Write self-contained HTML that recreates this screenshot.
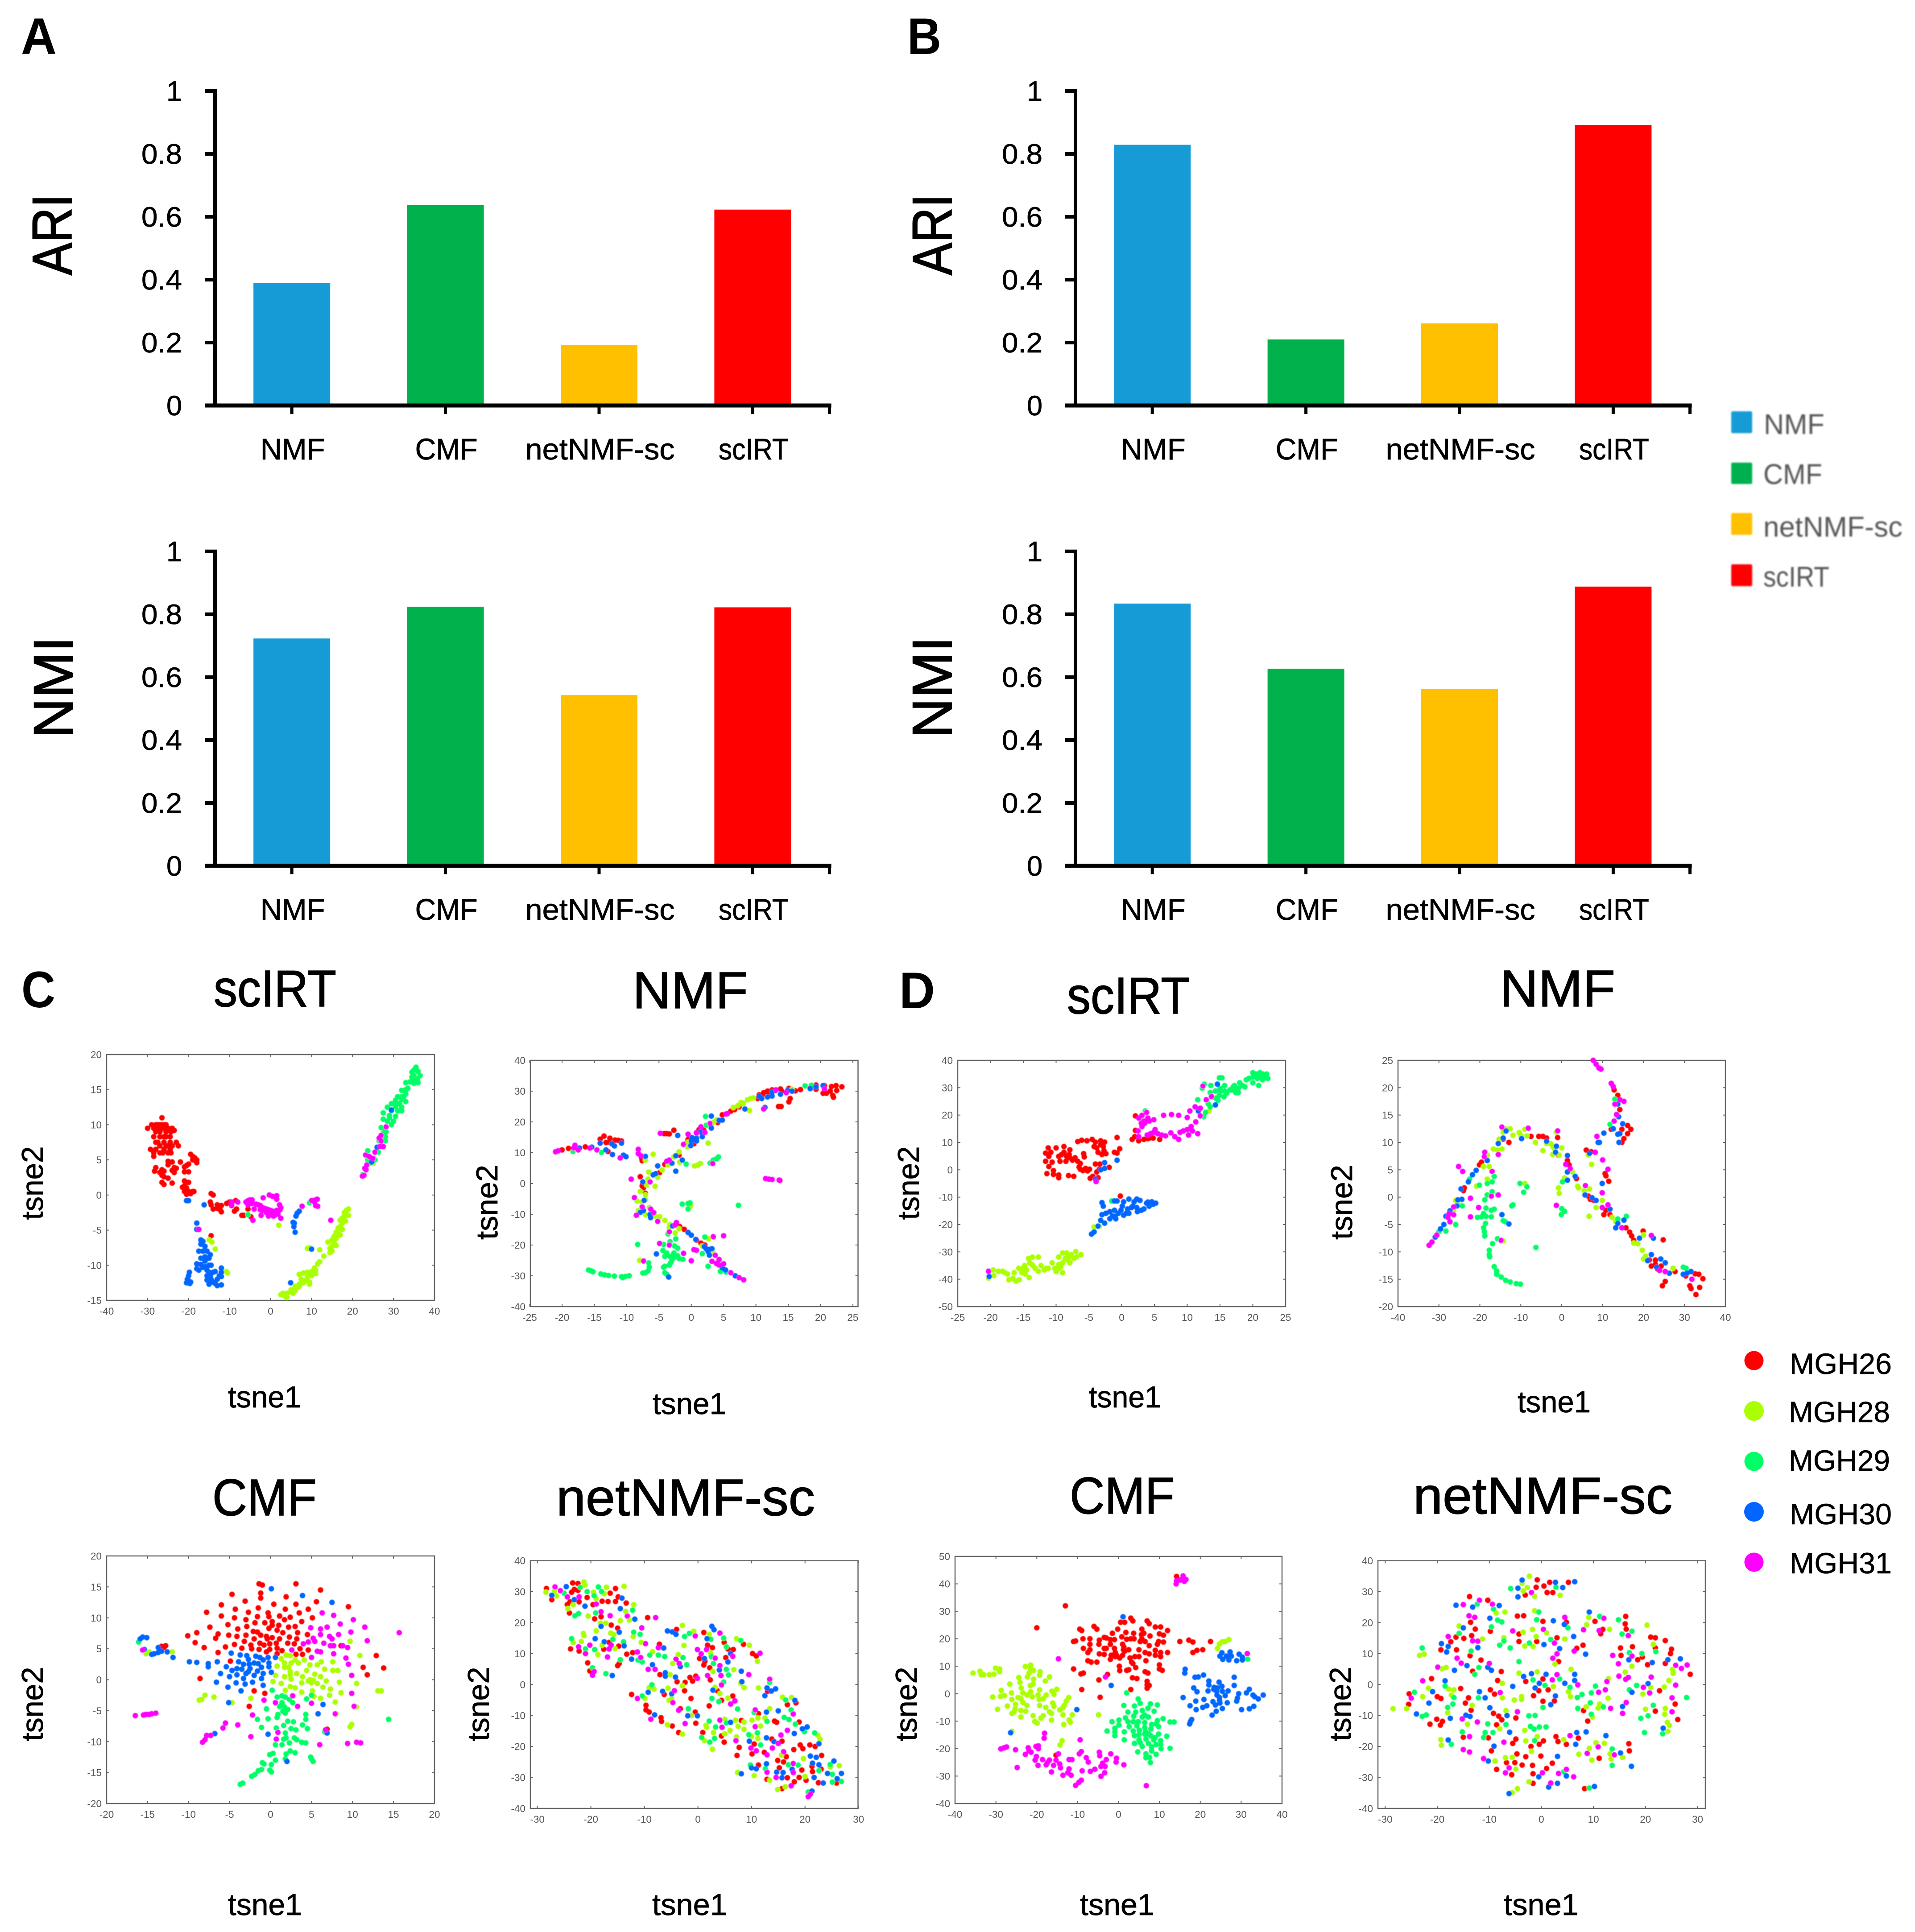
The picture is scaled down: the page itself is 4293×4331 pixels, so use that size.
<!DOCTYPE html>
<html lang="en">
<head>
<meta charset="utf-8">
<title>Clustering comparison figure</title>
<style>
html,body{margin:0;padding:0;background:#fff}
svg{display:block}
text{font-family:"Liberation Sans",sans-serif}
.tick{font-size:22.5px;fill:#555}
.bartick{font-size:63px;fill:#000;stroke:#000;stroke-width:.8px}
.cat{font-size:67px;fill:#000;stroke:#000;stroke-width:.8px}
.metric{font-size:125px;fill:#000;stroke:#000;stroke-width:2px}
.letter{font-size:115px;font-weight:bold;fill:#000}
.title{font-size:116px;fill:#000;stroke:#000;stroke-width:1.5px}
.axlab{font-size:68px;fill:#000;stroke:#000;stroke-width:.8px}
.leg1{font-size:64px;fill:#555}
.leg2{font-size:66px;fill:#000;stroke:#000;stroke-width:.6px}
</style>
</head>
<body>
<svg id="figure" xmlns="http://www.w3.org/2000/svg" width="4293" height="4331" viewBox="0 0 4293 4331">
<defs>
<filter id="soft" x="-5%" y="-5%" width="110%" height="110%"><feGaussianBlur stdDeviation="0.9"/></filter>
<filter id="softer" x="-5%" y="-5%" width="110%" height="110%"><feGaussianBlur stdDeviation="1.6"/></filter>
</defs>
<rect x="0" y="0" width="4293" height="4331" fill="#fff"/>

<text class="letter" x="47" y="121" textLength="80" lengthAdjust="spacingAndGlyphs">A</text>
<text class="letter" x="2034" y="121" textLength="76" lengthAdjust="spacingAndGlyphs">B</text>
<text class="letter" x="48" y="2258" textLength="76" lengthAdjust="spacingAndGlyphs">C</text>
<text class="letter" x="2016" y="2260" textLength="80" lengthAdjust="spacingAndGlyphs">D</text>

<text class="metric" transform="translate(160,526) rotate(-90)" text-anchor="middle" textLength="182" lengthAdjust="spacingAndGlyphs">ARI</text>
<text class="metric" transform="translate(163,1541) rotate(-90)" text-anchor="middle" textLength="228" lengthAdjust="spacingAndGlyphs">NMI</text>
<text class="metric" transform="translate(2133,526) rotate(-90)" text-anchor="middle" textLength="182" lengthAdjust="spacingAndGlyphs">ARI</text>
<text class="metric" transform="translate(2133,1541) rotate(-90)" text-anchor="middle" textLength="228" lengthAdjust="spacingAndGlyphs">NMI</text>

<g filter="url(#softer)">
<rect x="3881" y="922" width="47" height="49" rx="3" fill="#179bd7"/>
<text class="leg1" x="3954" y="973" textLength="136" lengthAdjust="spacingAndGlyphs">NMF</text>
<rect x="3881" y="1037" width="47" height="48" rx="3" fill="#00b050"/>
<text class="leg1" x="3953" y="1085" textLength="132" lengthAdjust="spacingAndGlyphs">CMF</text>
<rect x="3881" y="1150" width="47" height="49" rx="3" fill="#ffc000"/>
<text class="leg1" x="3953" y="1203" textLength="312" lengthAdjust="spacingAndGlyphs">netNMF-sc</text>
<rect x="3881" y="1265" width="47" height="49" rx="3" fill="#ff0000"/>
<text class="leg1" x="3953" y="1315" textLength="148" lengthAdjust="spacingAndGlyphs">scIRT</text>
</g>

<g>
<circle cx="3932" cy="3050" r="21.5" fill="#ff0000"/>
<text class="leg2" x="4012" y="3080" textLength="229" lengthAdjust="spacingAndGlyphs">MGH26</text>
<circle cx="3932" cy="3163" r="22" fill="#aaff00"/>
<text class="leg2" x="4010" y="3188" textLength="227" lengthAdjust="spacingAndGlyphs">MGH28</text>
<circle cx="3932" cy="3276" r="21.5" fill="#00ff66"/>
<text class="leg2" x="4010" y="3297" textLength="227" lengthAdjust="spacingAndGlyphs">MGH29</text>
<circle cx="3932" cy="3389" r="22" fill="#0066ff"/>
<text class="leg2" x="4012" y="3417" textLength="229" lengthAdjust="spacingAndGlyphs">MGH30</text>
<circle cx="3932" cy="3502" r="21.5" fill="#ff00ff"/>
<text class="leg2" x="4012" y="3527" textLength="229" lengthAdjust="spacingAndGlyphs">MGH31</text>
</g>

<g>
<text class="title" x="479" y="2256" textLength="275" lengthAdjust="spacingAndGlyphs">scIRT</text>
<text class="title" x="1418" y="2260" textLength="259" lengthAdjust="spacingAndGlyphs">NMF</text>
<text class="title" x="2392" y="2272" textLength="275" lengthAdjust="spacingAndGlyphs">scIRT</text>
<text class="title" x="3362" y="2256" textLength="259" lengthAdjust="spacingAndGlyphs">NMF</text>
<text class="title" x="476" y="3397" textLength="234" lengthAdjust="spacingAndGlyphs">CMF</text>
<text class="title" x="1247" y="3397" textLength="580" lengthAdjust="spacingAndGlyphs">netNMF-sc</text>
<text class="title" x="2398" y="3393" textLength="235" lengthAdjust="spacingAndGlyphs">CMF</text>
<text class="title" x="3168" y="3393" textLength="581" lengthAdjust="spacingAndGlyphs">netNMF-sc</text>
</g>

<g>
<text class="axlab" x="511" y="3155" textLength="164" lengthAdjust="spacingAndGlyphs">tsne1</text>
<text class="axlab" x="1463" y="3170" textLength="165" lengthAdjust="spacingAndGlyphs">tsne1</text>
<text class="axlab" x="2441" y="3155" textLength="162" lengthAdjust="spacingAndGlyphs">tsne1</text>
<text class="axlab" x="3402" y="3166" textLength="164" lengthAdjust="spacingAndGlyphs">tsne1</text>
<text class="axlab" x="511" y="4293" textLength="166" lengthAdjust="spacingAndGlyphs">tsne1</text>
<text class="axlab" x="1462" y="4293" textLength="168" lengthAdjust="spacingAndGlyphs">tsne1</text>
<text class="axlab" x="2421" y="4293" textLength="167" lengthAdjust="spacingAndGlyphs">tsne1</text>
<text class="axlab" x="3371" y="4293" textLength="168" lengthAdjust="spacingAndGlyphs">tsne1</text>
<text class="axlab" transform="translate(96,2652) rotate(-90)" text-anchor="middle" textLength="165" lengthAdjust="spacingAndGlyphs">tsne2</text>
<text class="axlab" transform="translate(1115,2695) rotate(-90)" text-anchor="middle" textLength="168" lengthAdjust="spacingAndGlyphs">tsne2</text>
<text class="axlab" transform="translate(2060,2652) rotate(-90)" text-anchor="middle" textLength="165" lengthAdjust="spacingAndGlyphs">tsne2</text>
<text class="axlab" transform="translate(3031,2695) rotate(-90)" text-anchor="middle" textLength="168" lengthAdjust="spacingAndGlyphs">tsne2</text>
<text class="axlab" transform="translate(96,3820) rotate(-90)" text-anchor="middle" textLength="167" lengthAdjust="spacingAndGlyphs">tsne2</text>
<text class="axlab" transform="translate(1096,3820) rotate(-90)" text-anchor="middle" textLength="167" lengthAdjust="spacingAndGlyphs">tsne2</text>
<text class="axlab" transform="translate(2055,3820) rotate(-90)" text-anchor="middle" textLength="167" lengthAdjust="spacingAndGlyphs">tsne2</text>
<text class="axlab" transform="translate(3028,3820) rotate(-90)" text-anchor="middle" textLength="167" lengthAdjust="spacingAndGlyphs">tsne2</text>
</g>

<g id="charts"></g>
</svg>

<script>
// ---------- bar chart data ----------
const barCategories = ['NMF','CMF','netNMF-sc','scIRT'];
const barTickValues = [0,0.2,0.4,0.6,0.8,1];
const barTickLabels = ['0','0.2','0.4','0.6','0.8','1'];
const ariPanelA = [0.389,0.637,0.193,0.623];
const nmiPanelA = [0.723,0.824,0.543,0.822];
const ariPanelB = [0.829,0.21,0.261,0.892];
const nmiPanelB = [0.834,0.627,0.563,0.888];

// ---------- scatter ticks ----------
const ticksM40to40 = [-40,-30,-20,-10,0,10,20,30,40];
const ticksM30to30 = [-30,-20,-10,0,10,20,30];
const ticksM25to25 = [-25,-20,-15,-10,-5,0,5,10,15,20,25];
const ticksM20to20by5 = [-20,-15,-10,-5,0,5,10,15,20];
const ticksM15to20 = [-15,-10,-5,0,5,10,15,20];
const ticksM20to25 = [-20,-15,-10,-5,0,5,10,15,20,25];
const ticksM50to40 = [-50,-40,-30,-20,-10,0,10,20,30,40];
const ticksM40to50 = [-40,-30,-20,-10,0,10,20,30,40,50];

// ---------- panel C, scIRT ----------
const cScirtMgh26 = [[-29,10],[-28,10],[-27.5,10],[-27,10],[-26.5,10],[-26,10],[-25.5,10],[-26.5,11],[-30,9.5],[-28.5,9.5],[-27.5,9.5],[-26.5,9.5],[-25.5,9.5],[-25,9.5],[-24,9.5],[-23.5,9.2],[-28,9],[-27,9],[-25.5,9],[-24.3,9],[-28.5,8.3],[-27,8.3],[-26,8.3],[-25.5,8.3],[-24.5,8.3],[-28,7.5],[-27.5,7.5],[-26,7.5],[-24.5,7.5],[-23,7.5],[-27,7],[-25.5,7],[-25,7],[-24,7],[-22.5,7],[-29.3,6.5],[-28,6.5],[-26,6.5],[-24.5,6.5],[-28.5,6],[-27,6],[-26.3,6],[-25,6],[-24.3,6],[-28.5,5.5],[-28,3.9],[-28.3,3.4],[-26.5,3.6],[-26,3.4],[-27,3.2],[-26.5,2.8],[-26,2.6],[-25,2.4],[-26.5,1.8],[-26,1.5],[-24,1.7],[-25,4.8],[-24,4.7],[-23.5,3.9],[-23,3.8],[-24,3.5],[-23.5,3.2],[-25,4.3],[-22,4.7],[-21,4],[-20.5,4.2],[-21,3.3],[-20,3.3],[-20,4.4],[-19.5,5.8],[-19,5.5],[-19,5],[-18.5,5.3],[-18,5],[-18,4.6],[-21,2],[-20,1.8],[-21,1.3],[-21.5,1.1],[-20.5,1],[-21,0.5],[-20,0.5],[-19,0.5],[-19.5,0.2],[-20.5,0.1],[-18.7,0.5],[-14.5,0.2],[-14,0],[-14.7,-1],[-14.5,-1.4],[-13,-1.4],[-12,-1.5],[-14,-2],[-13,-1.9],[-12.3,-2.1],[-12,-2.4],[-10.7,-1.2],[-10,-1],[-9.5,-1.5],[-8.5,-0.8],[-8.3,-2],[-8.8,-2.3],[-7,-2.9],[-6.5,-2.9],[-5.5,-2],[-4.8,-3.1],[-14.5,-5.8]];
const cScirtMgh28 = [[2,-4.3],[19,-2],[18.5,-2.2],[18,-2.5],[19,-2.9],[18,-3],[17.5,-3.3],[17,-3.6],[18.3,-3.7],[17.5,-4],[17,-4.5],[16.5,-4.7],[17.5,-4.9],[16,-5.3],[16.5,-5.5],[17,-5.7],[15.5,-5.9],[16,-6.2],[15,-6.4],[15.5,-6.8],[14,-6.7],[16,-7.2],[15,-7.3],[14.5,-7.6],[15,-8],[12,-7.8],[14.5,-8.2],[13,-8.7],[12,-9.5],[11.5,-9.8],[10.7,-10.4],[11,-10.7],[10,-10.9],[11,-11.2],[9,-11],[8,-11.1],[7,-11.3],[9,-11.7],[10,-11.5],[7.5,-12],[8.5,-12.2],[9.5,-12.4],[8,-12.5],[7,-12.7],[6,-13],[9.5,-12.7],[7,-13],[6.5,-13.2],[5,-13.5],[6,-13.6],[5,-13.8],[4,-14],[3,-14],[3.5,-14.4],[4,-14.6],[5.5,-14],[2.5,-14.2],[9,-7.6],[9.5,-7.5],[-15,-6.4],[-14.3,-6.7],[-13.5,-7.7],[-10.8,-10.9],[-10.5,-11.1],[25,4.5]];
const cScirtMgh29 = [[35.5,18.2],[35,17.8],[34.5,17.5],[36,17.6],[35,17],[36.5,17],[34.5,16.8],[35.8,16.5],[35,16.2],[36,16],[35,15.9],[34,16.1],[33,16],[33.5,15.2],[33,15],[32,14.9],[33,14.4],[32,14],[32.5,14],[31,14],[32,13.6],[30.5,13.5],[31.5,13],[33,13.3],[32,12.5],[30.5,12.6],[29.5,13],[30.5,12.9],[28.5,12.5],[32,12],[31,12],[29.5,12],[27.5,11.7],[29,11.3],[30.5,11.2],[29,11],[30,10.5],[27.5,10.8],[28.5,10.5],[29.5,10],[27,9.6],[28,9.4],[28.2,9],[27.5,8.8],[28,8.3],[27.5,8],[26.5,7.7],[28,7.7],[26.3,6.1],[23.7,6.3],[23.7,5],[24,4.5],[25.5,5],[22.5,2.9],[-5.5,-2.8],[9.5,-1.1]];
const cScirtMgh30 = [[-20.5,-0.8],[-20,-0.8],[-16.2,-1.4],[-18,-4],[-18,-4.9],[5.5,-3.9],[5.8,-4],[6.2,-3],[6.5,-2.6],[7,-2.3],[5.7,-4.5],[6,-5.3],[-17,-6.4],[-16.5,-6.6],[-17,-7],[-16,-7.3],[-16.5,-8],[-17.5,-8],[-15.5,-8],[-16,-8.8],[-17,-9],[-15.5,-9],[-14.7,-8.5],[-17,-9.9],[-16,-9.4],[-15,-9],[-18,-9.8],[-16,-10.2],[-15,-10],[-14.5,-10],[-18,-10.5],[-17.5,-10.7],[-16.5,-10.3],[-15.5,-10.7],[-15,-11],[-14,-11],[-13.5,-10.9],[-12,-10.4],[-12,-11],[-15.5,-11.5],[-14.7,-11.5],[-12.5,-11.5],[-12,-11.6],[-15.5,-12.1],[-14.5,-12],[-13,-12],[-14,-12.4],[-15,-12.7],[-13.5,-12.6],[-13,-12.9],[-12,-12.8],[-19.8,-11],[-20,-11.5],[-20.3,-12],[-20,-12.2],[-19.5,-12.4],[-20.5,-12.5],[-19.7,-12.6],[10,-7.7],[4.9,-12.5],[29.5,12.1],[26,6.8],[24.7,4.7]];
const cScirtMgh31 = [[-9.5,-1],[-9.5,-1.4],[-8,-1],[-6,-1],[-5.5,-0.8],[-5.3,-1.3],[-5,-0.7],[-4.8,-1],[-4.5,-1.2],[-5.5,-1.4],[-4.5,-0.7],[-3.5,-1.3],[-3,-1.4],[-2.5,-1.5],[-2,-1.8],[-2.5,-2.1],[-1.8,-0.4],[-0.3,0],[0.5,-0.2],[1.5,-0.1],[1.5,-0.6],[2.2,-1.4],[2.5,-1.8],[2.3,-2.1],[-4,-2],[-2,-2.2],[-1.5,-1.9],[-1,-2],[-0.5,-2.1],[0,-2.2],[-2.3,-2.9],[-1,-2.5],[-0.5,-2.7],[0,-2.6],[0.5,-2.3],[1,-2.9],[1.5,-2.2],[1.8,-2.7],[-0.5,-3],[0.7,-3],[2.5,-3.3],[-4.3,-3.6],[-17.5,-4.9],[7.7,-1.6],[10.3,-0.8],[11,-0.7],[10.7,-1],[11.4,-0.6],[10,-0.8],[11,-1.5],[11.5,-1.6],[14.7,-3.6],[28.2,9.7],[26.5,8.1],[27,8.5],[27,7.7],[26.7,6.9],[27.5,6.9],[25.5,6.1],[23.2,5.7],[24,5.5],[25,5.2],[24.2,5.4],[23.5,4.3],[23,3.8],[23.3,3.6],[22.4,2.7],[22.8,2.8]];

// ---------- panel C, NMF ----------
const cNmfMgh26 = [[23.3,31.4],[22.4,31.8],[21.7,31.5],[20.6,31.8],[19.3,32],[18.4,31],[22.5,30.2],[21.5,30],[20.4,29.3],[20.9,29.3],[21.9,28.6],[22,28],[19.3,30.6],[16.9,30.5],[16.1,30.1],[15.1,30.9],[13.8,30.7],[12.5,30.4],[11.8,30],[11.2,29.5],[10.5,28.8],[10.3,27.6],[15.3,27.6],[15.1,26.5],[13.5,25],[13.9,25],[14,30],[13,30.2],[11,28.8],[12,29.4],[8,26],[7.4,24.9],[6.7,24],[6.1,23.5],[4.8,22.3],[4.1,19.8],[3,19],[1.9,17.5],[1.2,17.5],[0.8,16.5],[0.1,13.8],[-0.5,14.3],[0.4,12.9],[-0.6,13.5],[-2.7,17.3],[-3.8,16.2],[-4.2,16.2],[-3.4,16.1],[-13.5,15.4],[-14.1,14.4],[-12.6,14.7],[-13.2,13.3],[-12.7,13.4],[-11.8,14.1],[-11.3,14],[-10.8,13.8],[-16.4,11.9],[-19,11.4],[-20,10.9],[-12.9,10.4],[-7.7,8.3],[-7.6,7.4],[-1.9,9.2],[-4.1,6.2],[-4.9,3.5],[-7.9,2.2],[-7.5,0],[-7.4,-1.4],[-7.1,-3.2],[-7.6,-0.8],[-1.8,-14],[-1.1,-14.9],[1.5,-19.4],[2.1,-20],[0.8,-18.4],[13.7,1]];
const cNmfMgh28 = [[9.2,27.6],[9.6,27.8],[8.7,27.2],[7.2,25.3],[6.5,24.7],[9,23.7],[3.4,19.8],[3.9,20.7],[2.6,13.1],[-0.5,13.4],[-0.6,12],[-1.9,10.3],[-2.7,8.6],[-1.8,6.9],[1,6],[0.5,5.7],[1.4,6.5],[-5.9,9.5],[-7.1,7.6],[-3.6,6],[-4.5,4.4],[-6.6,3.7],[-5.2,2],[-6.7,1.4],[-6.9,-0.5],[-5.6,-0.9],[-7.9,-2.6],[-7.1,-3.7],[-8.4,-5.7],[-7.6,-6],[-7.1,-5.3],[-8.2,-8.8],[-7.1,-10.1],[-5.6,-10.6],[-4.9,-10.8],[-4.1,-12],[-3.3,-13.4],[-3.4,-14.3],[-1.9,-14.7],[-2.5,-16.1],[-0.1,-7.4],[2.7,-18],[1.7,-20.3],[3.4,-22.6],[-8,-25],[15.6,30.6],[8,25.9],[7.7,26.3],[-6.5,-7.8]];
const cNmfMgh29 = [[17.6,31.7],[18.6,31.9],[2.2,21.8],[2.3,18.9],[-18.3,10.4],[-13.9,10.1],[4.2,8.6],[3.9,8],[3.4,7.6],[2.9,6.6],[-0.8,6.3],[-1.4,-6.7],[-0.5,-6.5],[-0.2,-6.3],[-0.5,-8.3],[7.3,-7.1],[-3.6,-16.4],[-3.3,-18.9],[-2.4,-18],[2.1,-17.4],[-8.3,-19.8],[-4.3,-19.8],[-2.6,-20.3],[-2.1,-21],[-4.4,-21.8],[-3.8,-22.6],[-4.1,-23.7],[-2.7,-22.6],[-3.3,-23.7],[-2.7,-24],[-2.1,-23.5],[-1.9,-24.4],[-1.3,-24.6],[1.7,-22.8],[-3,-24.9],[-3.2,-25.8],[-3.4,-26.5],[-4.1,-26.9],[-4.3,-27.2],[-6.6,-25.8],[-6.5,-27.2],[-6.7,-28.4],[-7.1,-29],[-7.5,-29.1],[-4.1,-29],[-3.8,-29.5],[2.6,-26.9],[4.5,-28.6],[5.4,-28.8],[-15.9,-28.1],[-15.5,-28.4],[-15.2,-28.7],[-14,-29.4],[-13.4,-29.7],[-12.8,-29.9],[-11.9,-30.1],[-10.8,-30.3],[-10.6,-30.6],[-10.2,-30.2],[-9.6,-30]];
const cNmfMgh30 = [[20.4,31.8],[19.3,31.4],[18.4,30.8],[15.6,30],[14.9,30.2],[13.8,29],[12.5,29.8],[12.5,28.4],[11.8,28.1],[10.5,28.3],[10.9,27.6],[11.4,24.7],[8.3,24.2],[4.8,20.6],[4.3,20.5],[3.1,21.9],[3.1,18],[1.4,16.8],[1.7,15.2],[0.1,14.9],[0.8,14.7],[0,13.8],[0.8,13.8],[-0.1,12.3],[-2.1,15.6],[-14.1,13.1],[-12.3,12.9],[-11.9,12.2],[-10.8,13.1],[-15.4,11.8],[-17.3,11.5],[-13.2,10.9],[-12.2,9.4],[-10.5,9.2],[-10.1,8.7],[-7.1,8.8],[-5.2,5.7],[-1.4,7.6],[-3,6.6],[-2.4,9],[-2.4,4],[-5.5,3.2],[-5.9,2.8],[-7.5,0.5],[-7.3,-5.5],[-7.4,-8.8],[-7.9,-9.4],[-6.4,-10.1],[-6.3,-11.1],[-2.9,-13.8],[-0.5,-15.9],[0,-16.8],[0.7,-18.2],[2,-20.5],[2.3,-21.2],[2.8,-21.4],[3.2,-21.2],[2.6,-22.1],[2.8,-23.3],[-5.4,-22.9],[4.8,-27.4],[5.3,-28.1],[6.8,-30],[-3.5,-30.4]];
const cNmfMgh31 = [[13.1,30.4],[14.7,29.5],[20.6,30.7],[11.2,24.2],[5.4,22.6],[5.6,22.7],[2.9,19.5],[1.5,18.4],[0.8,16.4],[2.1,16.6],[-0.5,16],[-4.8,16.3],[-1.2,12.7],[-21,10.3],[-20.6,10.6],[-18,12.4],[-18.2,11.5],[-17.5,10.9],[-15.7,11.5],[-14.6,10.9],[-11,8.3],[-8.2,11.1],[-8.2,9.7],[-7.8,9],[-3.4,7.6],[-3.8,7.2],[3.3,6.5],[-9.3,1.4],[-6.4,0.5],[-8.8,-4.6],[-7.6,-7.6],[-6.3,-8.3],[-5.8,-9.5],[-8.5,-10.3],[-5.2,-12.3],[-2.3,-12.7],[-2.5,-13.5],[-3.4,-15.7],[3.4,-17.3],[5,-17],[-4.9,-19.5],[-3.4,-20],[-1.2,-22.7],[0.4,-21.5],[0.8,-21.7],[0,-25.1],[-7.4,-25.2],[3.7,-23.3],[4.3,-24.7],[3.2,-25.3],[3.9,-26],[5,-26.1],[4.3,-26.5],[6.1,-29],[7.4,-30.6],[8.1,-31.3],[11.5,1.6],[12,1.4],[12.5,1.3],[13.6,1.1]];

// ---------- panel D, scIRT ----------
const dScirtMgh26 = [[-11.6,6.1],[-11.2,8],[-11.1,4.9],[-11.6,3.1],[-10.8,6.4],[-10,8],[-10.6,2.8],[-11.1,1.2],[-11.4,-1.4],[-10.4,-0.3],[-10.4,-1.7],[-9.6,-1.9],[-9.6,-2.9],[-9.6,4.9],[-9.4,3.1],[-8.8,8.5],[-8.8,6.4],[-8.4,4.9],[-8.5,3.1],[-7.9,7.3],[-7.9,4.4],[-7.1,4.4],[-6.7,3.1],[-8.1,-2.1],[-7.3,-2.4],[-6.3,2.3],[-6.3,0.2],[-5.9,-0.3],[-4.9,0.2],[-5.8,5.9],[-5.7,4.7],[-6.7,10.3],[-6.1,10.8],[-5.3,10.6],[-4.5,11.1],[-4,10.1],[-3.2,10.6],[-2.6,10.1],[-4.2,8.5],[-3.8,8],[-2.8,8.5],[-3.6,6.4],[-3,5.6],[-2.4,5.9],[-4,2.1],[-3.3,2.1],[-3.4,0.2],[-3.8,-0.8],[-4.8,-3.1],[-4.4,-2.4],[-3.6,-2.9],[-1.9,0.9],[-1.1,6.4],[-0.7,6.1],[-0.3,7.7],[-0.7,11.8],[-9.2,5.5],[-8,5.6],[-7.5,3.5],[-6.5,1],[-5.5,0.5],[-5.2,-0.4],[-2.7,7],[-3.2,9.2],[2.1,19.7],[2.1,14.4],[2,12.1],[1.6,11.1],[2.6,10.6],[3.4,11.1],[4.2,11.6],[4.8,11.6],[5.8,11.1],[-0.2,-9.6],[4,11.4]];
const dScirtMgh28 = [[-20.3,-39.6],[-19.5,-38.7],[-19.6,-36.6],[-18.8,-37.1],[-18.2,-37.1],[-17.8,-37.6],[-17.4,-38.1],[-17.2,-40.2],[-16.6,-39.7],[-16.1,-40.7],[-15.6,-40.2],[-16.4,-37.6],[-15.7,-36],[-15.2,-37.6],[-14.8,-35],[-14.2,-32.4],[-13.6,-31.9],[-14.5,-36.6],[-14.7,-38.1],[-14.1,-39.4],[-13.6,-34.8],[-12.7,-31.9],[-12.7,-37.1],[-12.3,-35],[-11.8,-36.6],[-10.6,-34],[-11.2,-36],[-10.2,-36],[-9.6,-31.9],[-9.6,-36],[-9,-37.6],[-9,-34],[-9,-30.4],[-8.4,-30.4],[-8.1,-31.9],[-7.9,-34],[-7.7,-31],[-7,-29.9],[-6.9,-31.9],[-6.2,-31],[-7.3,-32.4],[-9.6,-34.6],[-10,-37.2],[-11.5,-36],[-8.6,-32.4],[-8.2,-33],[-14,-34],[-13.2,-36],[-15,-36],[-9.3,-35.5],[-4.2,-20.9],[-3.4,-20.6],[13.3,21.5]];
const dScirtMgh29 = [[20,35.5],[19.4,33.4],[19,32.9],[20,33.9],[20.5,35],[21.1,35.5],[21.5,35],[22.1,35],[22.3,33.4],[21.5,32.9],[20.7,33.4],[20.9,30.8],[20,31.8],[18.4,30.8],[18,31.8],[17.2,30.8],[16.8,29.2],[17.4,28.2],[16.5,29.2],[15.7,30.8],[15.3,33.6],[14.9,33.6],[15.7,28.8],[15.1,28.8],[14.3,28.8],[13.5,28.2],[14.9,27.2],[14.3,26.2],[15.6,26.7],[14.7,25.4],[13.6,30.8],[12.6,31.3],[12.3,29.8],[11.6,25.6],[13.2,24.1],[13.5,23],[12.8,21],[12.5,19.4],[3.6,21.5],[-1.5,-11.4],[17.8,29.8],[17.8,28.2],[17.4,29.8],[17,30.3],[18.8,30.3],[21,34.2],[21.8,34],[16,28],[15,29.8]];
const dScirtMgh30 = [[-3,-12],[-2.8,-13.3],[-1.1,-11.4],[-0.7,-11.4],[0.3,-11.7],[1.1,-10.7],[1.9,-11.7],[2.3,-10.7],[2.8,-11.2],[4.6,-11.7],[5.2,-12.2],[3.8,-12.2],[4.2,-13.3],[3.4,-14.3],[3,-14.8],[2.4,-15.3],[1.5,-13.8],[0.9,-14.3],[1.1,-15.9],[0.1,-13.3],[-0.1,-14.8],[-0.5,-15.9],[-1.1,-14.8],[-1.8,-15.3],[-2.4,-15.9],[-1.4,-16.9],[-0.9,-17.9],[-1.8,-17.9],[-3,-16.4],[-3.2,-18.5],[-2.6,-19.5],[-3.6,-20.6],[-4.2,-22.7],[-4.6,-23.5],[-2.6,2.6],[-2.6,0.5],[-3.2,0],[-0.7,3.5],[-4,-3.4],[-20.2,-39],[11.7,21.5],[14.3,23.7],[14.6,31.3],[1.7,-13.3],[0.7,-15.9],[2.3,-13.8],[4.8,-12.6],[4,-11.8],[-1,-17],[0.3,-16.6]];
const dScirtMgh31 = [[-20.3,-37.1],[-3.9,-4.3],[2.6,18.9],[3.1,19.9],[3.8,21],[4,18.9],[3.4,17.8],[3.1,15.8],[2.5,14.2],[2.6,12.1],[4.9,18.3],[6.4,19.9],[7.6,20.2],[8.7,19.9],[4.9,13.7],[5.1,14.7],[5.5,13.2],[6.1,12.7],[6.7,12.4],[7.5,13.5],[8.1,12.1],[8.7,11.1],[8.9,13.7],[9.4,14.2],[10,14.7],[10.2,12.7],[10.8,14.2],[11.6,13.2],[10.6,15.8],[11.3,17.5],[10,19.1],[10.4,21.5],[11.2,23],[12,22.5],[12,19.7],[12.4,30.6],[13.7,26.8],[12.9,25.6],[3.9,12.7],[4.4,13.2],[3.5,17],[4.2,17.8],[3,17]];

// ---------- panel D, NMF ----------
const dNmfMgh26 = [[34.5,-14.9],[33.5,-14.1],[32.6,-14],[33.7,-16.5],[32.8,-17.8],[31.3,-16.2],[31.6,-16.7],[30.3,-14.4],[27.7,-13.6],[25.3,-15.4],[24.6,-16.2],[25.3,-13.6],[24.3,-12.6],[22.9,-11.5],[22.9,-12.3],[21.9,-12.6],[23.4,-13.1],[21.4,-11.5],[24.8,-7.8],[19.9,-6.2],[16.6,-6.4],[17.1,-7.1],[17.6,-7.9],[15.7,-5.6],[11.8,-3.2],[10.3,-3.2],[10.8,-2.4],[7.9,-0.6],[7,-0.4],[6.5,0.2],[3.6,3.4],[1.8,5.9],[1.4,6.7],[10.8,3.9],[11.5,2.9],[10.6,4.3],[-0.8,7.7],[-1,10.9],[-4.6,11.1],[-5.6,11.1],[-7.5,11.1],[-3.7,10.8],[-12.9,10],[-14.3,10.6],[-19.6,6.4],[-20.1,5.9],[-23.8,1.7],[-24,1.2],[6,8.6],[7.2,8.3],[12.8,19.6],[13.7,18.6],[14.2,16],[16.1,13.1],[14.7,12.4],[16.9,12.4],[16.1,11.6],[15.2,10.7],[14.7,10],[12.1,12.4]];
const dNmfMgh28 = [[-13.8,12.5],[-12.6,12.5],[-14.3,11.9],[-15.3,10.6],[-11.9,11.3],[-10.4,11.8],[-9,12.4],[-10,11.3],[-8.5,11.2],[-6.4,10],[-4.6,8.5],[-3.7,9.8],[-2.7,9.8],[-2.2,9.3],[-1.7,8.8],[-2.2,7.8],[-1.3,11.9],[0,9],[-0.6,7.7],[-16.7,8.8],[-15.7,8.6],[-14.6,8.8],[-18.2,7.7],[-19.1,5.6],[-17.7,5.6],[-18.2,3.3],[-20.8,2],[-25.9,-0.6],[-25.4,-1.1],[-26.4,-2.4],[-9,2.5],[-0.8,1.7],[-0.6,0.7],[0.7,3.5],[2.6,4.6],[4.1,1.7],[6.5,7.7],[7.3,6],[6.7,-3.5],[6.8,1.5],[5.5,1.2],[9.9,-0.6],[8.4,-1.9],[12.3,-3.7],[13.2,-4.5],[17.6,-8.4],[18.6,-8.5],[19.7,-9.7],[20.5,-10.8],[20,-11.3],[20,-6.9],[27.2,-13],[-14.3,-8],[3.9,2]];
const dNmfMgh29 = [[29.7,-12.8],[30.4,-13],[15.8,-3.5],[13,17.9],[11.8,13.3],[-10.2,2.5],[-8.5,1.9],[-9.3,0.9],[-6.3,-9.2],[-11.9,-1.4],[-12.2,-1.6],[-15.7,0.4],[-17,1],[-18.2,2.5],[-20.1,2.2],[-16.5,3.8],[-18.2,0.4],[-18.8,-0.5],[-18.5,-2],[-16.5,-2.2],[-17.2,-2.4],[-20.6,-3.7],[-19.6,-3.6],[-18.5,-3.5],[-19.1,-3],[-17.2,-3.6],[-14.3,-4.3],[-13.8,-4.5],[-18.6,-4.8],[-19.1,-5.6],[-18.9,-6.3],[-18.8,-7.1],[-16.9,-8.5],[-15.7,-7.6],[-17.7,-9.7],[-17.7,-10.5],[-17.6,-10.9],[-16.5,-12.7],[-15.9,-13.5],[-15.9,-14.1],[-14.8,-14.6],[-13.7,-15.2],[-12.6,-15.5],[-11.1,-15.8],[-10.1,-15.9],[-25.9,-5],[-28.3,-6.2],[-30,-6.3],[-24.3,-1.6],[-22.5,3.3],[0.2,2.8],[0,-2.1],[0.7,-2.6],[-0.1,-3.2],[13.7,-4],[-17,2.8]];
const dNmfMgh30 = [[31.6,-13.6],[30.6,-13.9],[29.7,-14.1],[26.3,-13.9],[25.3,-12],[24.2,-11.3],[21.9,-10.5],[21,-11.6],[23.2,-12.8],[19,-7.5],[22.4,-7.5],[15.2,-4.2],[13.7,-4.8],[13.2,-5.6],[11.8,-2.2],[9.9,2.5],[8.4,-0.6],[7.4,-0.1],[5.7,0.4],[6.8,8],[3.3,3.8],[1.4,3.1],[1.4,4.6],[1.4,7.6],[-1.5,8.2],[-1.3,9.3],[-3.7,10.2],[-9.8,10.7],[-13.6,12.1],[-14.3,10.8],[-15.5,9.8],[-18.2,6.7],[-20.9,4.9],[-21.8,4.1],[-22.8,2.8],[-24.6,1.5],[-25.4,-0.5],[-24.4,-0.4],[-25.6,-1.6],[-27.3,-2.5],[-28.3,-3.5],[-28.8,-5],[-29.6,-5.8],[-30.9,-7.3],[-14.6,-3.2],[-12.9,-4.9],[8.9,10],[9.2,10],[10.3,11.7],[12.6,12.5],[14.9,13.4],[13.7,11.5],[14.2,11.6],[14,10],[13.7,17],[13.9,14.7]];
const dNmfMgh31 = [[7.7,25],[8.4,24.3],[9.1,23.6],[9.6,23.4],[12.1,20.8],[12.6,20.2],[13,17],[15.2,17.5],[14.2,17.8],[13.4,15.1],[12.8,13.9],[-14.6,12.8],[-8.2,12.6],[-1,12.1],[8.6,11.1],[8.2,8.2],[10,6.8],[11.3,5.1],[9.9,0.8],[5.8,2.1],[-1.3,-1.5],[1,6],[2.1,5.2],[11.3,-1.4],[9.9,-1.9],[14.7,-5.6],[21.9,-7],[23.9,-13.4],[25.3,-13.6],[31.8,-15],[-25.2,5.6],[-24.2,4.7],[-18.8,8.2],[-18.9,7.4],[-17,4.7],[-15.5,7.8],[-15.5,0.4],[-22.3,-0.2],[-20.3,-1.9],[-22.3,-3.6],[-14.8,-7.9],[-26.4,-3.2],[-27.5,-3],[-26.4,-1.8],[-27.3,-4.5],[-27.8,-3.7],[-30.5,-6.9],[-31.7,-8.2],[-32.4,-8.8],[-17.2,0.2]];

// ---------- panel C, CMF ----------
const cCmfMgh26 = [[-1.4,15.5],[-1,15.3],[3.1,15.5],[6.1,14.5],[-1.2,14],[-1.2,13.2],[-4.7,13.8],[1.9,13.4],[-3.1,12.7],[0.4,12.2],[3.1,12.2],[5.6,12.6],[-6,12.1],[9.5,11.8],[-4.3,11.4],[-1.5,11.6],[1.8,11.4],[4.6,11.4],[-7.8,10.9],[-2.7,10.9],[-0.3,10.8],[3.5,10.8],[-6,10.3],[-4.4,10],[-1.6,10.2],[-0.2,10.2],[1.1,10.3],[2.4,10.1],[5.1,10],[-3,9.7],[1.7,9.7],[3.8,9.4],[-5.2,8.9],[-1.9,9.2],[-0.7,9.2],[0.2,9.4],[-2.9,8.6],[0.2,8.8],[1,8.8],[2.2,8.5],[3,8.6],[-7.4,8.5],[-4,8.2],[-0.2,8.3],[-2.1,7.8],[-1.6,7.7],[0.8,8],[-9,7.6],[-6.4,7.4],[1.5,7.6],[3.3,7.6],[-5.1,7.2],[-3,7.2],[-1.2,7.2],[4.5,7.3],[-10.1,7.1],[-6.7,6.7],[-4.1,7],[-0.5,7],[0.2,6.8],[2.3,6.9],[-2,6.6],[1.1,6.6],[3.2,6.6],[-3.2,6.2],[-1.3,5.9],[-0.4,6.6],[-9.2,6],[-4.4,5.7],[-2.4,5.6],[-0.1,5.8],[0.7,5.9],[2.1,5.9],[2.9,5.8],[-8.1,5.2],[-5.5,5.3],[-3.5,5.1],[-2.3,5],[-1.4,4.9],[-0.8,5.6],[-0.1,4.9],[0.8,5.1],[1.4,4.7],[3.6,5],[4.6,4.8],[-6.4,4.4],[-0.5,4.5],[0.8,4.2],[3.1,4.1],[3.9,4.1],[-13.3,5.4],[-12.8,5.5],[-13,5.2],[-8.6,0.2],[-4.9,3],[12.9,3.9],[13.8,1.9],[11.3,2],[11.8,0.8],[-2,-1.8],[-0.7,-2.2],[-2.6,-4.3],[6.9,-8],[8.6,5.5]];
const cCmfMgh28 = [[9.7,6.2],[10.9,3.9],[1.9,4],[2.4,3.9],[1.3,3.4],[1.7,2.7],[0.8,2.2],[2.5,2.7],[3,3.2],[4.1,3.2],[3.4,2.7],[4.8,2.4],[5.7,2.4],[6.2,2.9],[7.6,2.9],[6.6,1.7],[7.6,1.5],[8.2,1.5],[4.4,1.5],[2.4,1.3],[3.2,1],[3.9,0.5],[5.4,0.9],[6.1,0.5],[0.6,0.7],[1.7,0.5],[2.5,0.1],[0.3,-0.3],[1.3,-0.6],[3.8,-0.5],[4.6,-0.2],[5,-0.5],[5.7,-0.6],[6.8,-0.2],[8.4,-0.4],[10.5,-0.6],[2.4,-1.1],[3,-1.3],[1.8,-1.7],[3.8,-2],[6.4,-1.2],[7.3,-1.5],[8.6,-2.1],[5.1,-1.8],[5.3,-2.7],[13.1,-1.8],[13.5,-1.8],[7.2,-2.5],[6.1,-3],[7.9,-3.6],[-8.4,-3.2],[-8,-2.5],[-6.9,-2.8],[-4.7,-3.7],[-2.4,-3],[10.5,-4.4],[9.9,-7.2],[9.7,-7.6],[8,-5.5],[-12,4.5],[-14.8,4.5],[-15.2,4.2],[1.7,2],[2.2,2],[2.4,0.8],[4.8,0],[5.2,-0.1],[-8.7,-3.3]];
const cCmfMgh29 = [[0.2,-1.7],[0.8,-2.8],[1.4,-2.6],[1.8,-2.8],[2.3,-3.2],[2.7,-3.7],[4.4,-3.1],[5,-2.5],[1.4,-3.7],[1.1,-4.3],[1.7,-4.4],[2.1,-4.8],[-0.5,-4.7],[0.9,-5.6],[0.8,-6.1],[1.5,-5.1],[1.8,-5.4],[-1.6,-6.4],[-0.3,-6.3],[4.3,-5.6],[4.3,-6.4],[2.1,-6.7],[2.8,-6.8],[1.6,-7.4],[3.9,-7.3],[-1.1,-7.7],[0.7,-7.8],[2.5,-7.9],[3.1,-8.1],[4.5,-7.9],[1.8,-8.6],[2.9,-9.4],[1.6,-9.6],[1.9,-9.4],[3.2,-9.7],[3.8,-10.1],[4.3,-10.2],[2.3,-10.2],[0.6,-10.5],[1.4,-10.5],[2.4,-11.5],[1.9,-12],[3,-11.8],[0.3,-11.9],[-0.1,-12.1],[0.6,-13],[4.9,-12.5],[5,-12.8],[5.2,-13.2],[1.8,-12.8],[-1,-13.4],[-0.8,-13.6],[0.1,-13.7],[-0.1,-14.6],[0.1,-14.9],[-1.1,-14.5],[-1.5,-14.7],[-1.9,-15.3],[-2.3,-15.6],[-3.4,-16.7],[-3.7,-16.9],[14.4,-6.4],[-16.1,6.1],[6.6,-8.4]];
const cCmfMgh30 = [[0.1,14.7],[3.9,13.6],[7.5,12.5],[-4.8,4.3],[-3.7,4],[-2.9,3.9],[-2.7,3.3],[-1.8,3.8],[-1.3,3.6],[-0.9,3.2],[-0.3,3.6],[0.6,3.6],[-3.9,2.9],[-3.3,2.5],[-2.6,2.5],[-2,2.7],[-1.5,2.6],[-0.2,2.7],[-0.2,2.1],[-1.1,2],[-5.4,2.1],[-4.1,1.8],[-4.7,1.5],[-3.5,1.7],[-2.5,1.8],[-2.7,1.3],[-1.6,1.4],[0.1,1.2],[-0.9,1],[-3,1],[-6.1,1],[-4.1,0.8],[-5,0.5],[-2,0.7],[-3.3,0.2],[-1.1,0.2],[-6.6,-0.4],[-4.2,-0.5],[-3.1,-0.7],[-2.2,-0.4],[-0.9,-0.9],[-5.2,-1.2],[-3.6,-1.8],[-9.9,2.9],[-9,2.8],[-7.6,2.6],[-7.6,2.1],[-6.5,2.9],[-11.9,3.6],[-12.6,4.5],[-13.3,4.6],[-13.7,4.4],[-14.2,4.2],[-14.5,4.1],[-13.7,5.2],[-15.4,4.9],[-15.9,6.6],[-15.6,6.9],[-15.1,6.8],[-5.1,-3.7],[6.4,-4],[5.8,-5.5],[6.9,-8.6],[-0.3,-8.8],[-6.8,-8.7],[2,-13.2]];
const cCmfMgh31 = [[-16.5,-5.8],[-15.5,-5.7],[-15.2,-5.6],[-14.8,-5.6],[-14.5,-5.5],[-14,-5.4],[-15.6,4.8],[-5.5,-7],[-5.8,-7.8],[-4,-7.3],[-2.4,-9.2],[-2.2,-5.7],[-0.8,-3.3],[0.6,-3.7],[2.7,-2.6],[3.3,-4.3],[5,-3.8],[-7.8,-9],[-7.3,-9],[-8,-9.7],[-8.3,-10.1],[0.9,-8.5],[0.7,-9.6],[6,-10.5],[6.7,-8.1],[9.4,-10.3],[10.5,-10.1],[11,-10.2],[10.2,-4.3],[7.9,-5.5],[9.9,-2.2],[9.9,0.7],[9.5,2.5],[9.2,3.5],[9.4,5.2],[8.8,5.5],[7.7,5.5],[7.3,5.5],[8.3,7.3],[9.8,7.7],[11.8,6.3],[11.5,8.5],[15.7,7.6],[10.1,9.7],[8.5,9],[7.7,10.4],[6.3,10.8],[6.9,8.5],[6.1,8.2],[6.1,7.3],[4.9,8.4],[5.2,6.7],[7.5,6.6],[7.2,7],[5.4,6.2],[4.6,6.1],[4,5.8],[6.5,5.9],[5.7,4.6],[6.1,4.5],[7.7,4.2],[2.6,4.8],[5,3.6]];

// ---------- panel C, netNMF-sc ----------
const cNetMgh26 = [[-28.3,31],[-27.3,27.4],[-23.4,32.8],[-22.4,32.6],[-23.6,29.8],[-23.1,30.7],[-22.4,30.4],[-23.9,26.7],[-24.4,25.8],[-22.2,26.7],[-20.7,28.1],[-19.6,25.8],[-16.4,29.5],[-15.4,31],[-17.9,26.9],[-16.8,26.8],[-15.4,26.8],[-14.9,28.3],[-13.4,26.3],[-24,23.1],[-19.3,21.2],[-18.1,21.9],[-9.4,21.6],[-16.2,19.2],[-15,18.2],[-4,17.8],[1.1,16.8],[-23.8,11.5],[-22.2,10.8],[-16.6,13.6],[-17.6,11.4],[-14.8,12.4],[-13.3,9.8],[-12.2,10.3],[-7.2,13],[0.3,8.4],[1.1,6.3],[1.3,7.5],[1.8,12.7],[2.7,11.9],[4.9,13.6],[5.6,11.5],[6.6,11.3],[5.2,8.7],[8.5,13],[10.2,10],[10.9,9.2],[2.2,5.4],[-20.6,7],[-20.2,4.4],[-15,6.1],[-14.7,6.8],[-7.1,3.2],[-3.9,0.9],[-2.4,0.7],[-1.5,2.3],[-1,1.1],[-0.4,2.7],[2.3,1.5],[-2.5,-2],[3.6,-2],[6.5,-3.7],[13,-2.2],[-12.4,-3.2],[-6.3,-3.2],[-1.3,-4.5],[4.4,-5.1],[-9.7,-6.7],[-9.7,-8.2],[-9.1,-8.9],[-3.3,-7.8],[-0.5,-8.9],[2.1,-6.9],[16.7,-6.5],[18.3,-5.9],[11.3,-9.4],[-6.9,-10.7],[-6.8,-11.9],[-4.8,-13.4],[-0.4,-12.5],[8.1,-11.6],[14.3,-11.8],[14.7,-12.2],[18.9,-12.1],[-3.6,-15.5],[0.9,-15.5],[4.4,-16.6],[4.9,-18.6],[13.8,-17.6],[15.7,-18.3],[7.7,-20.3],[7.3,-22.9],[10.1,-22.4],[10.5,-19.2],[12.4,-21.9],[14.9,-24.5],[16.5,-23.3],[17.9,-21],[19.1,-19.5],[19.6,-20.7],[20.9,-19.5],[21.9,-20],[23.1,-22.9],[16,-25],[11.3,-26],[15.2,-26.9],[21.3,-26.4],[23,-27.3],[21.4,-28.1],[19.4,-27.6],[18.9,-30],[20.2,-30.9],[12.9,-30.6],[16.7,-30.1],[18,-31.4],[22.5,-31.7],[25.9,-31.8],[15.7,-33.6]];
const cNetMgh28 = [[-28.4,29.8],[-26.8,30.2],[-26.4,28.6],[-21.3,33.1],[-21.1,32.1],[-19.5,29.8],[-17.5,29.3],[-17.1,31.4],[-13.8,31.7],[-19,27.7],[-23.3,25.8],[-24.3,24.5],[-20.5,22.1],[-13.5,23.6],[-12,25.8],[-14.5,20.6],[-12.8,20.8],[-18.2,19.8],[-17.2,19.8],[-21.4,16.5],[-21.3,15.8],[-19,17.3],[-16.3,16.6],[-15.7,16.1],[-23.3,13.6],[-21.8,13.9],[-17.9,12.7],[-15.5,11.6],[-12.1,15.5],[-10.6,13.6],[-8.5,10.6],[-18.7,9.7],[-4.7,6.8],[-3.7,9.7],[-2.9,-0.4],[-2.6,12.6],[-5.2,3.2],[-2.9,19.1],[-0.8,17.2],[2.1,16.2],[2.3,10.3],[2.8,4.2],[3.2,-0.9],[4.1,-2.9],[6.7,4.8],[8,0.4],[7.2,14.8],[9.6,12.7],[11.1,7.5],[8.6,-1],[5.6,-4.4],[11.3,-1.1],[15.8,-4.1],[17.5,-4.2],[13.4,-7.8],[-9.1,-1],[-8.2,-1.5],[-9.9,-4.5],[-5.6,-1.2],[-5.4,-5.1],[-4.9,-4.5],[-5.7,-13],[-2.9,-16],[-1.2,-10],[1.5,-13.2],[1.6,-13.8],[1.2,-18.1],[2.9,-15.5],[2.7,-20.9],[5,-11.2],[5,-15.9],[6,-14.8],[7,-11.5],[7.5,-13.5],[8.6,-14.5],[8.6,-12.1],[7.2,-16.9],[10.1,-11.5],[10,-16.7],[11.2,-10.8],[11.2,-17.4],[11.7,-13.4],[12.5,-10.8],[15.6,-22.8],[19.7,-23.9],[22.4,-16.4],[22.8,-17.6],[7.4,-28.4],[10.5,-29.4],[13.4,-30.9],[14.9,-33.9],[16.3,-33],[20,-29.7],[24.7,-26.6],[26.4,-26.2]];
const cNetMgh29 = [[-22,31.4],[-18.6,31.5],[-25,29.5],[-20.7,30],[-18,30],[-19.4,28.7],[-23,22.2],[-22.3,22.9],[-19.1,23.1],[-12.2,24],[-23.6,14.8],[-15.9,14.6],[-13.9,13.8],[-12,16.9],[-10.8,16.2],[-21,11.5],[-19.3,11.3],[-14.5,8],[-11.2,7.9],[-10.4,7.3],[-19.7,5.4],[-17.2,3.5],[-9,9.5],[-7.4,9.5],[-6.2,9],[-2.8,8.7],[-2.1,6.4],[-2.5,15.5],[-1.6,16.5],[2.4,14.6],[2.5,9],[4.8,15],[5.3,12.2],[8,14.2],[2.9,6.8],[5.3,4.9],[5.7,3.1],[4.8,0.8],[13.4,0.7],[-8.6,-0.1],[-10.4,-3.7],[-1.8,-7.8],[2.6,-4.5],[3.9,-5.5],[7.4,-7.9],[10.5,-9],[17.4,-8.2],[16.4,-5],[16.1,-10.6],[17,-11.3],[18.2,-12.8],[12.9,-11.9],[2.1,-11.8],[5.3,-12.4],[3.3,-13.7],[9.5,-16.2],[11.1,-15.6],[11.7,-19.5],[19.9,-15.2],[21.8,-15.6],[0.7,-17.1],[2.2,-18.6],[3.1,-17.4],[9.8,-26],[12.6,-27.2],[16.9,-25.9],[18.7,-26],[22.6,-27.8],[24.7,-25.8],[25.1,-29],[25.1,-31.5],[26.8,-31.3],[20.6,-34.7]];
const cNetMgh30 = [[-24.6,31.6],[-27.3,28.8],[-23.1,27.4],[-21.1,25.3],[-14.2,27.9],[-14.5,24.5],[-11.8,21.1],[-18.1,18.8],[-14.7,16.9],[-5.7,17.3],[-4.8,17],[-4.1,16.2],[2.6,18.8],[3,17.7],[1.7,14.8],[-19.2,14.8],[-17.5,13.8],[-13.8,12.5],[-6.4,11.8],[-12.4,8.2],[-8.5,6.4],[1.2,8.4],[6.1,10],[5.6,7.3],[4,4.7],[8.1,4.3],[8.2,0.9],[-16,2.9],[-6.1,3.8],[-6.1,2.7],[-4.2,2.4],[-3.3,5.8],[-9.3,-2.5],[-6.6,-2.2],[-4.9,-3],[2.8,-1.8],[6.1,-12.2],[12.5,-3.6],[12.9,-1.1],[13.7,-2.1],[14.5,-1.4],[18.1,-5.1],[-8.1,-9.8],[-1.9,-10.1],[-0.1,-10.1],[12.8,-8.9],[15,-8.5],[19.5,-14.3],[20.4,-13.7],[18,-15.8],[9.6,-18.3],[12.8,-17.2],[14.2,-18.4],[22.6,-19.1],[21,-23.1],[22.1,-23.5],[21.4,-25.4],[22.6,-25.9],[25.4,-24.7],[24.2,-28.7],[26.8,-28.7],[26,-30.4],[23.4,-31.8],[21.7,-30],[15.7,-30.1],[14.7,-28.3],[15.9,-28.4],[17.6,-27.4],[12.8,-25.6],[10,-26.9],[10.9,-27.2],[8.1,-28.8],[21.3,-34.4]];
const cNetMgh31 = [[-26.7,31.5],[-25.7,30.3],[-24.4,28.3],[-22.2,28.3],[-19,26],[-18.1,23.5],[-16.4,22.2],[-13.2,22.1],[-7.9,21.6],[-10.5,18.3],[4.1,16.6],[-0.5,15.7],[-9.8,13.2],[-16.2,12.7],[-20.2,12.7],[-22.3,12.2],[-16.6,11.5],[-21,10],[-16.9,8.9],[-11.3,10.5],[-10.7,8.7],[-7.4,11.9],[-4.1,8.2],[-3.5,6.8],[-0.1,11.3],[0.6,9.9],[1.6,11.3],[3.2,8.5],[4.1,6.1],[6.5,9.1],[11.6,10.1],[-9.3,4.9],[-8,4.9],[-19.4,4.2],[-19.7,3],[-0.1,2],[1.8,2.9],[4.3,2.9],[4.4,-0.1],[9.5,3.2],[13.4,1.7],[-4.4,-2],[-11.3,-4.5],[-4.7,-5.8],[-3.6,-8.3],[-8.8,-11.2],[-2.4,-12.6],[6.1,-6.3],[6.9,-5.3],[10.7,-8.2],[10.7,-13.6],[4.1,-11.5],[4.5,-13.8],[7.1,-18.1],[9.9,-20.5],[10.9,-21.4],[12.9,-22.7],[13.9,-20.5],[15,-19],[15.5,-16.3],[16,-21.7],[16.7,-14.8],[17.8,-9.5],[17.8,-25.5],[17.8,-28.4],[12.9,-28.3],[14.6,-30],[17.4,-32.7],[20.6,-36.2],[21,-35.4]];

// ---------- panel D, CMF ----------
const dCmfMgh26 = [[-13,32],[-20,24],[-11,19],[-10.5,19.2],[-9.5,23.5],[-9,23],[-8.7,20],[-8.6,16.5],[-7,20],[-6,24.5],[-5.3,23.5],[-7,18],[-7.5,15],[-7,16],[-7.5,12],[-6.7,11.5],[-5.3,11.5],[-4.7,19.5],[-4.8,18],[-4.7,14.5],[-3.5,14.3],[-3.5,16.5],[-3,16.5],[-3,20.3],[-2,19.7],[-2,18],[-2,12.5],[-1.8,14],[-1.5,22],[-1,19.7],[-0.8,15],[-0.5,14],[-0.8,13.5],[-0.2,23.5],[0.3,13],[0.2,10],[0.3,8.4],[0.8,20.7],[1,14],[1.2,16],[1.3,17],[1.5,15.5],[0.5,26],[1.5,26],[1.8,22.3],[2,19.8],[2,8.5],[2.5,8.7],[2.8,13],[2.5,16],[3,20],[3.2,11.5],[3,27.5],[3.5,26.5],[3.8,20],[3.7,22],[4,13.5],[4.2,9.5],[3.4,5.8],[4.5,5.5],[3,1.5],[5,16],[5.3,19],[5.7,23.5],[5.6,21.5],[5.7,20],[6.5,15],[6.5,19],[6.7,12],[6.2,22],[6.5,8],[7.2,7.5],[7.5,14.5],[7.5,17.5],[7,26.5],[7.5,25.5],[7,4.5],[7,3.2],[7,2],[7.5,3],[7.7,21],[9,15.8],[9,14],[9,24.3],[9.5,18],[9.8,19],[10,10.5],[10,9],[10,21.8],[10.3,24.3],[10.3,15],[10.3,13.5],[10.7,8.5],[11,21.3],[11,18.8],[12,23],[12,15],[15,19],[17.2,19.5],[18.2,18.8],[18.2,15],[19.2,15.8],[20.6,16],[22.5,19],[-11,9],[-9.2,7.2],[-8.6,7.5],[-9,1.5],[-4.8,5],[-4.5,-1.3],[-2.7,7],[-3.5,20.5],[1,18],[-1,16.5],[3.5,11],[5,13.5],[14.2,42.7],[-15.3,-22.4]];
const dCmfMgh28 = [[-35.6,7.5],[-33.9,8.2],[-33.6,6.9],[-33,6.9],[-31.6,6.9],[-30.5,7.1],[-30.1,9.3],[-29.1,9],[-29.1,8],[-22.8,9.9],[-21.5,10.4],[-21.5,9],[-20.8,8.5],[-21.9,7.5],[-24.4,5.9],[-22.3,6.1],[-24.1,4.1],[-19.2,8],[-19.3,6.7],[-16.9,6.1],[-17.9,4.6],[-20.8,5.3],[-20.9,3.5],[-21.6,2.9],[-26.6,3.5],[-23.8,2.1],[-28.7,1.2],[-26.2,0.3],[-23.4,0.3],[-21.5,0.7],[-19.3,1.4],[-16.3,0.9],[-15.1,1.6],[-15.8,-0.2],[-30.8,-1.2],[-28.9,-1],[-27.9,-0.7],[-26.1,-2.1],[-24.6,-1.4],[-23.9,-1.8],[-22.4,-0.5],[-21.1,-1.1],[-19.7,-0.5],[-17.7,-0.5],[-19.4,-2.1],[-18.4,-1.8],[-12.2,-1.4],[-12.8,-2.7],[-23.4,-3.2],[-22.4,-4.3],[-25.2,-3.9],[-19.3,-4.3],[-16.1,-3.4],[-15.8,-4.6],[-13.3,-4.3],[-17.8,-5],[-13.6,-5.1],[-14.4,-5.9],[-27.2,-4.5],[-25.3,-5.5],[-29.6,-5.7],[-23.9,-6.1],[-22.7,-6.4],[-16.9,-6.6],[-16.4,-7.2],[-25.6,-6.7],[-26.1,-7.2],[-13.6,-7.7],[-11.3,-7.7],[-20.9,-8],[-18.4,-8],[-19,-8.9],[-23.9,-8.5],[-16.4,-9.6],[-12.1,-9.6],[-11.8,-10.4],[-20.5,-10.1],[-19.9,-10.7],[-13.4,-11.2],[-4.9,-7.7],[-26.1,-13.7],[-13.8,-17.1],[-14.3,-18.7],[24.2,16.5],[24.7,18.1],[25.4,18.9],[26.1,19],[27,19.7]];
const dCmfMgh29 = [[2,0.3],[4.8,-1.9],[5.3,-3.5],[1.3,-4.3],[3.9,-4.5],[7.8,-3.7],[9.5,-4.1],[7.2,-5.3],[5.8,-6.1],[2.3,-6.7],[4.2,-6.7],[8.7,-6.4],[6.4,-7.8],[1.7,-8.8],[3.7,-8.2],[5.8,-8.5],[7.3,-8.5],[9.5,-9.8],[10.9,-9.1],[-1.6,-10.2],[0.1,-9.6],[2.3,-10.2],[3.6,-10.2],[4.8,-10.2],[6.4,-10.5],[8.1,-11.2],[9.2,-11],[12.6,-10.3],[13.6,-10.3],[0.1,-11.4],[2.6,-12],[4.5,-11.7],[6.4,-12.3],[7.9,-12.8],[9.8,-12],[-0.9,-12.6],[-2.8,-13.6],[-0.9,-13.9],[1.4,-13.9],[3.6,-13.6],[5.1,-13.3],[6.6,-13.9],[9.8,-14.7],[-0.9,-15.3],[3.9,-15.3],[5,-14.9],[7.9,-15.3],[8.9,-16],[11.8,-15.5],[1.4,-16.8],[5,-16.8],[6.7,-16.5],[8.6,-16.8],[10.3,-17.1],[3.9,-18.1],[5.3,-17.8],[7.3,-18.1],[9.2,-18.5],[10.3,-18.5],[5.8,-19.2],[8.1,-19.4],[10.4,-20],[12.6,-19.9],[4.7,-21.2],[6.7,-21.9],[8.1,-20.8],[9.2,-22.1],[6.7,-23.3],[7.6,-23.2],[7.8,-25.1],[31.6,12.6],[6.4,-14.7],[7.3,-14.6]];
const dCmfMgh30 = [[1.1,28],[-1.8,3],[-10.2,-5.8],[-26.4,-14.2],[16.3,8.9],[16.2,7.5],[18.7,6],[19.5,6.1],[20.8,6.8],[22.1,4.6],[22.1,3.2],[24.6,4.2],[28.3,6],[28.3,3],[18.4,2.1],[19.2,0.7],[21.9,1],[23.3,1.6],[24.2,2.1],[25.3,2.7],[24,0.9],[25.4,0.9],[26.8,1],[32,1.6],[31.3,0.3],[29.4,0],[32.9,-0.5],[33.3,-1.1],[35.4,-0.5],[34.2,-1.9],[15.8,-1.4],[20.9,-2.1],[26.1,-0.7],[24.7,-1.4],[29.1,-1.6],[28.9,-2.7],[18.9,-2.7],[23.1,-2.9],[26.6,-3.3],[17.5,-4.4],[21.6,-4.4],[23.7,-4.1],[24.8,-3.4],[20.6,-5],[19,-5.8],[25.4,-5.4],[30.1,-5.8],[32,-5.5],[33.1,-4.6],[23.9,-6.4],[22.9,-7.8],[17.9,-9.4],[17.6,-10.1],[17.4,-11],[25.3,14.9],[27.3,15.2],[29.5,14.4],[24.8,13.7],[26.4,13.7],[27.6,13.7],[25.5,12.5],[27,12.3],[28.9,12],[30.3,12.3],[30.3,13.3],[23.4,2.3],[24.1,-0.5],[24.7,-2.5]];
const dCmfMgh31 = [[14.1,40],[14.2,41.1],[15.1,41.4],[15.8,42.9],[16.5,41.6],[16.1,40.9],[-14.7,12.7],[-3.2,6.1],[31.5,14.6],[-18.1,-14.4],[-18.2,-16.2],[-9.4,-16.8],[-28.8,-20.1],[-28,-19.7],[-27.4,-19.4],[-25.2,-20.4],[-22.1,-19.7],[-21.9,-20.8],[-20.2,-19.2],[-19.6,-19],[-19.6,-20],[-21.4,-21.3],[-22.8,-22.1],[-14.7,-21.9],[-9.1,-21.1],[-9.6,-21.9],[-4.7,-21.3],[-4.6,-22.6],[-1.9,-21.9],[-20.1,-22.9],[-20.4,-24.2],[-18.6,-24],[-16.9,-24.2],[-17.4,-25.1],[-12.1,-24],[-11.4,-24],[-7.9,-23.3],[-7.4,-24.9],[-15.3,-24.2],[-17.7,-25.9],[-19.7,-26.1],[-24.8,-26.9],[-15.9,-26.1],[-14.4,-25.6],[-14.2,-27],[-12.1,-27.4],[-16.4,-28.5],[-12.4,-28.8],[-13.6,-29.7],[-11.6,-29.7],[-8.9,-28.1],[-6.9,-28.3],[-5.8,-27.5],[-3,-24],[-3.9,-25.3],[-0.5,-23.5],[-0.6,-24.9],[1.3,-25.9],[-3.3,-26.5],[-4.3,-26.5],[-3.4,-28.8],[-4.3,-30.1],[-9.1,-31.5],[-9.7,-32.3],[-10.5,-33.4],[6.8,-33.5]];

// ---------- panel D, netNMF-sc ----------
const dNetMgh26 = [[-13.8,28.4],[-10.3,27.2],[-13.6,20.1],[-12.7,17.9],[-13.4,15.8],[-14.9,14.9],[-16.4,15.3],[-17.4,13.8],[-19.3,11.2],[-16.3,11.2],[-13.7,9.3],[-11.6,7.9],[-13.2,4.3],[-9.8,17.2],[-4.6,22.1],[-3.4,22.2],[-4.3,16.3],[-4.3,13.9],[-0.9,13.9],[0.3,20.4],[-0.8,33.8],[0.5,31.8],[1.6,33],[1.1,29.7],[2.2,29.7],[5.2,33],[-1,31.4],[-3.1,28.9],[4.8,20.1],[3,15.1],[6.8,11.7],[8,12.7],[3.3,7.4],[-7.7,4.2],[-8.4,1.3],[-3,1],[0.3,1.8],[1.3,-1.7],[-0.5,-2],[-1.5,-3.6],[0.3,-5.4],[2.5,-5.3],[-9.8,-1.7],[-9,-3.1],[-15.5,-1.3],[-14,-4.3],[-14.6,-6],[-13.5,-8.3],[-20,-3.9],[-19.3,-4.5],[-25.4,-3],[-25.5,-6.4],[-20.1,-11.2],[-19,-11.9],[-19.4,-13.1],[-21.4,-12.8],[-21.1,1.9],[-9.2,-9.3],[-8.2,-10.2],[-7.6,-11.4],[-8.6,-13],[-4.9,-10.8],[8.1,-8.4],[8.9,-11.8],[-15,-17],[-10.2,-17.2],[-9.6,-21.4],[-4.9,-17.6],[-5.5,-19],[-2,-20],[-0.4,-19.3],[0.4,-18.2],[2.8,-16.8],[3.2,-18.4],[4.8,-19.3],[7.1,-17.3],[-4.7,-22.4],[-3,-23.3],[-0.1,-23.1],[-6.7,-25.2],[-5.1,-25.2],[-3.7,-26],[-1.7,-26.1],[2.1,-25.4],[1,-27.1],[-8.6,-27.4],[-5.7,-29.1],[-1.6,-28.8],[-1.6,-31.9],[8.3,-33.6],[11.1,-23.8],[16.8,-19.1],[16.9,-21.4],[16.2,22],[16.1,19.6],[16.3,17.9],[11.4,16.4],[11.8,17.8],[15.2,11.8],[15.3,9.4],[17.5,12.2],[18.5,8],[19.4,8.9],[20.4,6.4],[21,15.3],[21.9,15.1],[21.9,11.8],[23.8,14.2],[23.8,6.8],[25,11.4],[24.8,10],[28.6,3.3],[22.7,-2],[25.7,-6.3],[21.9,-8.6],[26.2,-11.3],[10.3,20.4]];
const dNetMgh28 = [[-28.5,-7.8],[-25.9,-7.8],[-23.4,9.4],[-22.5,9.8],[-21.7,-1.2],[-22.8,-3.9],[-19.1,5.1],[-18.3,5.5],[-17.8,-1.5],[-16.8,-1.7],[-17.3,-3.4],[-18,-9.1],[-19.3,-17.8],[-19.2,-19.6],[-15.8,18.9],[-11.3,14.7],[-8.7,23.1],[-7,23.4],[-7.2,15.1],[-13.3,-6.7],[-14.2,-12.8],[-7.5,0.4],[-7.5,-4.3],[-8,-14.3],[-6.8,-8.4],[-8.9,-24.7],[-6.9,-23.6],[-5.6,-23.5],[-4.9,-27.3],[-5.6,-34.9],[-4.6,-33.6],[-2.4,-31.4],[-5.2,-5],[-3.8,-3.9],[-3.8,-4.8],[-4.3,3.7],[-0.8,4.1],[-3.5,16.9],[-1.7,17.8],[-1,15.5],[-3.2,12.4],[-1.6,12.3],[-1.3,23.8],[1,16.7],[-2.3,35],[-3.7,32.7],[-3.5,30.2],[-2.7,31.3],[-1.3,28.5],[3.6,28.8],[4.5,14.7],[2.6,6.6],[5.7,4.9],[2.3,-0.6],[5.2,-2.3],[5.6,-3.9],[-3.2,-14.8],[-3,-18.2],[-0.8,-16.8],[-1.9,-21.6],[4.3,-17.8],[7.2,-22.5],[9.2,-20.6],[10.5,-18.8],[9.7,-24.4],[12.1,-19],[13.2,-22.4],[13.4,-24],[15.6,-23.5],[8.6,-7.2],[9.8,-10.5],[10.9,-7.6],[11.2,-6.3],[12.8,-4.4],[12.9,1.9],[9.1,21.7],[8.7,19.3],[13.1,17.8],[20.3,19.2],[21.5,13],[17.4,5.9],[16.1,4],[25.2,4.9],[25.3,3.6],[24.5,1.3],[23.6,-0.8],[21,-1],[19.5,-3.1],[20,-8],[23.8,-7.7],[23.7,-9.6],[24.2,-12.2],[24.6,-13.2],[24.3,-15.1]];
const dNetMgh29 = [[-5.9,31],[2.8,31.4],[-12.3,26],[-9.2,24.4],[-0.5,23.4],[-8.4,20.8],[-7.6,20.2],[-0.9,20.9],[-9.6,18.6],[-15.8,16.5],[-7.2,14.1],[-8,12.7],[-6,11.8],[-2.3,13.4],[1.8,14.5],[-22.9,11.8],[-13.5,10.8],[-4.3,7.4],[-12,5.5],[-12.8,3.3],[5.1,18.3],[11.2,22],[14.8,20.9],[15.5,16.3],[17.4,17.2],[16.9,10.3],[19.3,10],[22,10.6],[-1.6,1.5],[3.5,1.8],[0.7,-0.3],[5.5,-0.9],[10.4,-0.5],[9.6,-2.7],[7.8,-3.2],[6.9,-4.2],[18.3,-0.3],[16.9,-1.7],[-18.5,-0.5],[-24.4,-2.5],[-16.8,-4.2],[-12.1,-4.3],[-17,-6.3],[-18,-7.4],[-22.1,-9.8],[-22.9,-10.3],[-10.3,-12.7],[-6.8,-12.9],[-15.2,-15.3],[-10.8,-15.5],[-9.3,-15.5],[-11.1,-17.1],[-17.3,-19.3],[-2.4,-10.1],[-1.2,-10],[0.3,-7.4],[-2.1,-13.5],[-1.4,-14.4],[-0.4,-13.7],[0.9,-13.7],[-1.3,-18.1],[7,-7.7],[9.4,-5.9],[9.6,-9.6],[11.9,-7.2],[13.6,-20.8],[13.6,-26.1],[4.3,-28.2],[9.2,-33.4],[19.1,-10.9],[20.5,-10.1],[19.8,-15.5],[21.5,-6.7],[23.3,-15.9],[27.9,-4.2]];
const dNetMgh30 = [[-3.7,33.7],[2.7,33],[6.4,33.2],[-4.5,31.1],[4.1,31.3],[-4.5,28.3],[-16.4,25.6],[-13.2,25],[-8.1,25.5],[9.2,23.4],[-9.9,21.4],[2.3,20.6],[4.4,19.4],[-15,18.3],[6.2,15.5],[-19.2,13.2],[-17.9,12.3],[-18.2,10.5],[-12.2,11.9],[0.5,12.9],[3.5,11.6],[8.5,9.8],[-14.3,6.1],[-16.7,4.6],[-10.3,5.6],[-9.6,4.6],[16.8,8],[21.3,7.1],[24.3,8],[26.7,8.3],[-1.9,3.5],[0.9,3.3],[-3.4,2.6],[6.4,3.3],[6.4,1.3],[-18.5,1.2],[4.5,0.4],[-0.4,0.4],[-5.5,-0.6],[-1.2,-1.1],[-20.9,-2.3],[-11.9,-2.3],[-10.8,-4.3],[20.5,0.3],[17.4,-2.5],[2.7,-3.7],[-21.6,-6],[-9.9,-7.5],[1.8,-6.5],[15.6,-7.1],[-24,-9.5],[-14.5,-9.9],[-13.7,-10.3],[-17.5,-10.9],[-6.6,-10],[-6.1,-15.4],[6.8,-15.5],[8.6,-15.3],[12.4,-16.5],[23.4,-14.1],[-17.9,-17.9],[-9.1,-19.9],[6.6,-19.3],[3.1,-23.2],[15.2,-22.1],[17.3,-26.4],[-10.2,-24.7],[-0.5,-29.8],[4.8,-29.5],[-6.2,-35.2],[1.4,-33.1],[3.1,-31.9],[10.2,-32.9]];
const dNetMgh31 = [[-15,25.8],[-11.9,27.2],[-9.4,25.9],[-13.9,22.2],[-12.8,21.7],[4.5,21.7],[-1.9,29.7],[12,21.4],[-17.9,15.5],[-13.2,14.1],[-12.2,14],[-5.5,17.3],[0.4,17.8],[2.5,13.4],[8.1,17.7],[11.1,17.4],[16.7,15.8],[6.3,10.8],[3,9.9],[2.2,8.5],[-16.2,8.5],[-15.4,6.9],[-10,6.8],[-19.9,5.6],[-22.8,1.2],[3,3.2],[2.1,1.5],[13.7,9.4],[17.4,9.2],[14.8,6.7],[14.9,2.7],[16.2,1.7],[16.7,2.3],[12.6,1],[21.1,2.4],[25.8,6.2],[26.9,5.2],[28,6.3],[25.8,-0.2],[7,-0.1],[11,-2.5],[12.3,-1.7],[19.6,-0.9],[20.8,-2.7],[25.1,-4.3],[-25,-4.4],[-7.9,-2.6],[-4.6,-8.8],[13.3,-7.7],[16.3,-5.8],[15.6,-9.3],[25.1,-8.8],[-15.2,-11.1],[-12.3,-12.1],[-13.8,-16.8],[-7.2,-18.6],[5.5,-16.5],[10.9,-20.1],[8.8,-22.2],[14,-22.7],[-15,-21],[-13.8,-21.8],[-11.1,-23.9],[-6.2,-26.9],[-6.9,-28.5],[0.2,-28.5],[3.3,-28.7],[4.8,-27.4],[6.2,-29.8],[1.8,-31.8]];

// ---------- drawing ----------
const NS = 'http://www.w3.org/2000/svg';
const charts = document.getElementById('charts');
const BAR_COLORS = ['#179bd7','#00b14c','#ffc000','#ff0000'];
const SAMPLE_COLORS = ['#ff0000','#aaff00','#00ff66','#0066ff','#ff00ff'];
const SAMPLE_NAMES = ['mgh26','mgh28','mgh29','mgh30','mgh31'];

function group(parent, name) {
  const g = document.createElementNS(NS, 'g');
  
  
  parent.appendChild(g);
  return g;
}
function line(parent, x1, y1, x2, y2, stroke, width, name) {
  const l = document.createElementNS(NS, 'line');
  l.setAttribute('x1', x1);
  l.setAttribute('y1', y1);
  l.setAttribute('x2', x2);
  l.setAttribute('y2', y2);
  l.setAttribute('stroke', stroke);
  l.setAttribute('stroke-width', width);
  
  
  parent.appendChild(l);
}
function label(parent, str, x, y, cls, anchor, len, name) {
  const t = document.createElementNS(NS, 'text');
  t.textContent = str;
  t.setAttribute('x', x);
  t.setAttribute('y', y);
  t.setAttribute('class', cls);
  t.setAttribute('text-anchor', anchor);
  if (len) {
    t.setAttribute('textLength', len);
    t.setAttribute('lengthAdjust', 'spacingAndGlyphs');
  }
  
  
  parent.appendChild(t);
}

const CAT_LENGTHS = [145,140,335,157];
function drawBars(name, values, dx, dy) {
  const g = group(charts, name);
  const xBand = i => 482 + dx + 344.4 * (i + 0.5);
  const yVal = v => 909 + dy - 705 * v;
  values.forEach((v, i) => {
    const r = document.createElementNS(NS, 'rect');
    r.setAttribute('x', xBand(i) - 86);
    r.setAttribute('y', yVal(v));
    r.setAttribute('width', 172);
    r.setAttribute('height', yVal(0) - yVal(v));
    r.setAttribute('fill', BAR_COLORS[i]);
    
    
    g.appendChild(r);
  });
  line(g, 482 + dx, yVal(1) - 4, 482 + dx, yVal(0) + 4, '#000', 8, 'y-axis-line');
  line(g, 459 + dx, yVal(0), xBand(3.5) + 4, yVal(0), '#000', 9, 'x-axis-line');
  barTickValues.forEach((v, i) => {
    line(g, 459 + dx, yVal(v), 482 + dx, yVal(v), '#000', 8, 'y-tick');
    const len = barTickLabels[i].length > 1 ? 91 : 0;
    label(g, barTickLabels[i], 408 + dx, yVal(v) + 22, 'bartick', 'end', len, 'y-tick-label');
  });
  barCategories.forEach((c, i) => {
    line(g, xBand(i), yVal(0), xBand(i), yVal(0) + 19, '#000', 7, 'x-tick');
    label(g, c, xBand(i) + 2, yVal(0) + 121, 'cat', 'middle', CAT_LENGTHS[i], 'x-tick-label');
  });
  line(g, xBand(3.5), yVal(0), xBand(3.5), yVal(0) + 19, '#000', 7, 'x-tick-end');
}

function drawScatter(name, box, xlim, ylim, xTicks, yTicks, series) {
  const g = group(charts, name);
  const sx = v => box.l + (v - xlim[0]) / (xlim[1] - xlim[0]) * (box.r - box.l);
  const sy = v => box.b - (v - ylim[0]) / (ylim[1] - ylim[0]) * (box.b - box.t);
  const frame = document.createElementNS(NS, 'rect');
  frame.setAttribute('x', box.l);
  frame.setAttribute('y', box.t);
  frame.setAttribute('width', box.r - box.l);
  frame.setAttribute('height', box.b - box.t);
  frame.setAttribute('fill', '#fff');
  frame.setAttribute('stroke', '#666');
  frame.setAttribute('stroke-width', 2.5);
  
  
  g.appendChild(frame);
  xTicks.forEach(v => {
    const x = sx(v);
    line(g, x, box.b, x, box.b - 6, '#666', 2, 'x-tick');
    line(g, x, box.t, x, box.t + 6, '#666', 2, 'x-tick-top');
    label(g, String(v), x, box.b + 32, 'tick', 'middle', 0, 'x-tick-label');
  });
  yTicks.forEach(v => {
    const y = sy(v);
    line(g, box.l, y, box.l + 6, y, '#666', 2, 'y-tick');
    line(g, box.r, y, box.r - 6, y, '#666', 2, 'y-tick-right');
    label(g, String(v), box.l - 11, y + 8, 'tick', 'end', 0, 'y-tick-label');
  });
  const dots = group(g, 'points');
  dots.setAttribute('filter', 'url(#soft)');
  series.forEach((pts, s) => {
    const sg = group(dots, 'series-' + SAMPLE_NAMES[s]);
    pts.forEach(p => {
      const c = document.createElementNS(NS, 'circle');
      c.setAttribute('cx', sx(p[0]));
      c.setAttribute('cy', sy(p[1]));
      c.setAttribute('r', 6.2);
      c.setAttribute('fill', SAMPLE_COLORS[s]);
      
      
      sg.appendChild(c);
    });
  });
}

drawBars('bar-chart-ari-a', ariPanelA, 0, 0);
drawBars('bar-chart-nmi-a', nmiPanelA, 0, 1032);
drawBars('bar-chart-ari-b', ariPanelB, 1929, 0);
drawBars('bar-chart-nmi-b', nmiPanelB, 1929, 1032);

drawScatter('scatter-c-scirt', {l:239,r:974,t:2364,b:2915}, [-40,40], [-15,20], ticksM40to40, ticksM15to20,
  [cScirtMgh26,cScirtMgh28,cScirtMgh29,cScirtMgh30,cScirtMgh31]);
drawScatter('scatter-c-nmf', {l:1189,r:1923.5,t:2377,b:2929}, [-24.9,25.8], [-40,40], ticksM25to25, ticksM40to40,
  [cNmfMgh26,cNmfMgh28,cNmfMgh29,cNmfMgh30,cNmfMgh31]);
drawScatter('scatter-d-scirt', {l:2147,r:2882,t:2377,b:2929}, [-25,25], [-50,40], ticksM25to25, ticksM50to40,
  [dScirtMgh26,dScirtMgh28,dScirtMgh29,dScirtMgh30,dScirtMgh31]);
drawScatter('scatter-d-nmf', {l:3134,r:3868,t:2377,b:2929}, [-40,40], [-20,25], ticksM40to40, ticksM20to25,
  [dNmfMgh26,dNmfMgh28,dNmfMgh29,dNmfMgh30,dNmfMgh31]);
drawScatter('scatter-c-cmf', {l:239,r:974,t:3488,b:4043}, [-20,20], [-20,20], ticksM20to20by5, ticksM20to20by5,
  [cCmfMgh26,cCmfMgh28,cCmfMgh29,cCmfMgh30,cCmfMgh31]);
drawScatter('scatter-c-netnmf', {l:1189,r:1923.5,t:3498.5,b:4054}, [-31.3,29.9], [-40,40], ticksM30to30, ticksM40to40,
  [cNetMgh26,cNetMgh28,cNetMgh29,cNetMgh30,cNetMgh31]);
drawScatter('scatter-d-cmf', {l:2141,r:2874,t:3489,b:4043}, [-40,40], [-40,50], ticksM40to40, ticksM40to50,
  [dCmfMgh26,dCmfMgh28,dCmfMgh29,dCmfMgh30,dCmfMgh31]);
drawScatter('scatter-d-netnmf', {l:3089,r:3823,t:3498.5,b:4054}, [-31.4,31.5], [-40,40], ticksM30to30, ticksM40to40,
  [dNetMgh26,dNetMgh28,dNetMgh29,dNetMgh30,dNetMgh31]);
</script>
</body>
</html>
